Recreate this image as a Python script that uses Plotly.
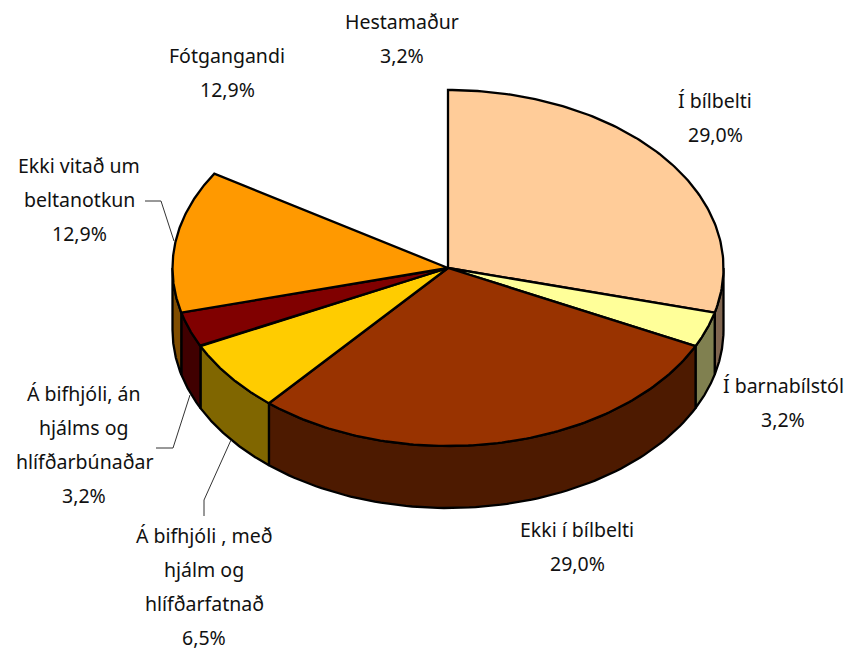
import numpy as np
import plotly.graph_objects as go

categories = ["Í bílbelti", "Í barnabílstól", "Ekki í bílbelti",
              "Á bifhjóli , með hjálm og hlífðarfatnað",
              "Á bifhjóli, án hjálms og hlífðarbúnaðar",
              "Ekki vitað um beltanotkun", "Fótgangandi", "Hestamaður"]
values = [29.0, 3.2, 29.0, 6.5, 3.2, 12.9, 12.9, 3.2]
top_colors = ["#FFCC99", "#FFFF99", "#993300", "#FFCC00", "#800000", "#FF9900", None, None]
side_colors = ["#806650", "#808050", "#4D1A00", "#806600", "#400000", "#804D00", None, None]

label_lines = [["Í bílbelti"], ["Í barnabílstól"], ["Ekki í bílbelti"],
               ["Á bifhjóli , með", "hjálm og", "hlífðarfatnað"],
               ["Á bifhjóli, án", "hjálms og", "hlífðarbúnaðar"],
               ["Ekki vitað um", "beltanotkun"], ["Fótgangandi"], ["Hestamaður"]]
label_x = [715, 783, 577, 204, 84, 79, 227, 402]
label_y = [100, 385, 529, 535, 393, 165, 55, 21]
LINE = 34.2

leaders = [([145, 161, 174], [201, 201, 241]),
           ([156, 173, 190], [448, 448, 395]),
           ([204, 204, 231], [516, 500, 440])]

CX, CY, RX, RY, DEPTH = 448, 268, 275.5, 178, 62
FONT = "Noto Sans"
FS = 19.5

def px(a):
    return CX + RX * np.sin(a)
def py(a):
    return CY - RY * np.cos(a)

fractions = np.array(values) / sum(values)
edges = np.concatenate([[0], np.cumsum(fractions)]) * 2 * np.pi

fig = go.Figure()
def poly(xs, ys, fill):
    fig.add_trace(go.Scatter(x=xs, y=ys, mode="lines", fill="toself", fillcolor=fill,
                             line=dict(color="#000000", width=2.3), hoverinfo="skip", showlegend=False))

# side walls, only the front half of the rim is visible
for i in range(len(values)):
    if side_colors[i] is None:
        continue
    a0, a1 = max(edges[i], np.pi / 2), min(edges[i + 1], 3 * np.pi / 2)
    if a1 <= a0:
        continue
    t = np.linspace(a0, a1, 80)
    xs = np.concatenate([px(t), px(t[::-1]), px(t[:1])])
    ys = np.concatenate([py(t), py(t[::-1]) + DEPTH, py(t[:1])])
    poly(xs, ys, side_colors[i])

# top faces
for i in range(len(values)):
    if top_colors[i] is None:
        continue
    t = np.linspace(edges[i], edges[i + 1], 120)
    xs = np.concatenate([[CX], px(t), [CX]])
    ys = np.concatenate([[CY], py(t), [CY]])
    poly(xs, ys, top_colors[i])

for lx, ly in leaders:
    fig.add_trace(go.Scatter(x=lx, y=ly, mode="lines", line=dict(color="#333333", width=1),
                             hoverinfo="skip", showlegend=False))

anns = []
for i, lines in enumerate(label_lines):
    rows = lines + [f"{values[i]:.1f}%".replace(".", ",")]
    for j, row in enumerate(rows):
        anns.append(dict(x=label_x[i], y=label_y[i] + j * LINE, text=row, showarrow=False,
                         xanchor="center", yanchor="middle",
                         font=dict(family=FONT, size=FS, color="#111111")))

fig.update_layout(width=849, height=651, margin=dict(l=0, r=0, t=0, b=0),
                  paper_bgcolor="white", plot_bgcolor="white", annotations=anns,
                  xaxis=dict(range=[0, 849], visible=False, fixedrange=True),
                  yaxis=dict(range=[651, 0], visible=False, fixedrange=True))
fig.write_html("out.html", config={"displayModeBar": False},
               post_script="document.body.style.margin='0';")
